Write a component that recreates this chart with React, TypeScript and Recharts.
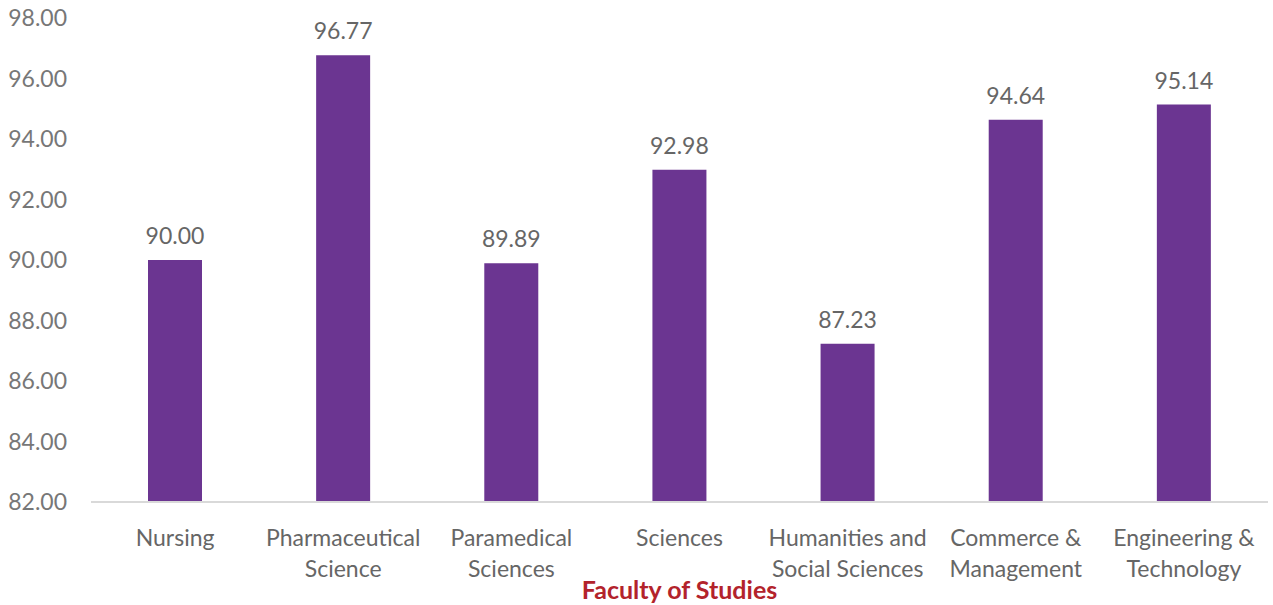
import { Bar, BarChart, LabelList, XAxis, YAxis } from "recharts"

const faculties = [
  "Nursing",
  "Pharmaceutical\nScience",
  "Paramedical\nSciences",
  "Sciences",
  "Humanities and\nSocial Sciences",
  "Commerce &\nManagement",
  "Engineering &\nTechnology",
]

const scores = [90.0, 96.77, 89.89, 92.98, 87.23, 94.64, 95.14]

const yTicks = [82, 84, 86, 88, 90, 92, 94, 96, 98]

const data = faculties.map((name, i) => ({ name, score: scores[i] }))

const FONT = "Lato, 'Open Sans', sans-serif"
const GREY = "#666666"

function FacultyTick(props: any) {
  const { x, y, payload } = props
  const lines = String(payload.value).split("\n")
  return (
    <g transform={`translate(${x},${y})`}>
      {lines.map((line, i) => (
        <text
          key={i}
          x={0}
          y={i * 31}
          dy={36}
          textAnchor="middle"
          fill={GREY}
          fontSize={23}
          fontFamily={FONT}
        >
          {line}
        </text>
      ))}
    </g>
  )
}

function AxisTitle(props: any) {
  const { viewBox } = props
  const cx = viewBox.x + viewBox.width / 2
  return (
    <text
      x={cx}
      y={viewBox.y + 97}
      textAnchor="middle"
      fill="#b3232b"
      fontSize={25}
      fontWeight="bold"
      fontFamily={FONT}
    >
      Faculty of Studies
    </text>
  )
}

export default function App() {
  return (
    <div style={{ position: "absolute", left: 0, top: 0, background: "#fff" }}>
      <BarChart
        width={1273}
        height={605}
        data={data}
        margin={{ top: 18, right: 5, bottom: 0, left: 0 }}
      >
        <XAxis
          dataKey="name"
          height={103}
          interval={0}
          tickLine={false}
          axisLine={{ stroke: "#d9d9d9", strokeWidth: 2 }}
          tick={<FacultyTick />}
          label={<AxisTitle />}
        />
        <YAxis
          width={91}
          domain={[82, 98]}
          ticks={yTicks}
          allowDataOverflow
          tickLine={false}
          axisLine={false}
          tickMargin={18}
          tickFormatter={(v: number) => v.toFixed(2)}
          tick={{ fill: "#777777", fontSize: 23, fontFamily: FONT }}
        />
        <Bar dataKey="score" fill="#6b3591" barSize={54} isAnimationActive={false}>
          <LabelList
            dataKey="score"
            position="top"
            offset={16}
            formatter={(v: any) => Number(v).toFixed(2)}
            style={{ fill: GREY, fontSize: 23, fontFamily: FONT }}
          />
        </Bar>
      </BarChart>
    </div>
  )
}
